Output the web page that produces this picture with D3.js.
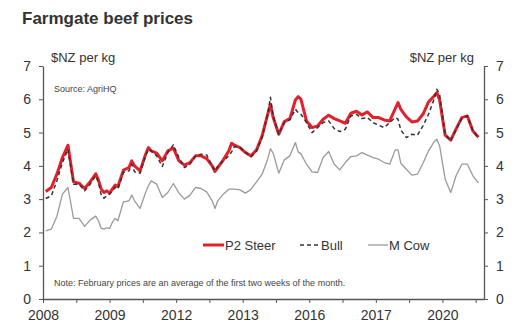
<!DOCTYPE html>
<html>
<head>
<meta charset="utf-8">
<script src="https://cdn.jsdelivr.net/npm/d3@7"></script>
<style>
  html, body { margin: 0; padding: 0; background: #fff; }
  svg { display: block; font-family: "Liberation Sans", Arial, sans-serif; }
</style>
</head>
<body>
<svg id="chart" width="524" height="336"></svg>
<script>
// Month index counted from January 2008
const months = [1,3,5,7,9,11,13,15,17,19,20,21,22,23,24,25,26,27,29,31,32,33,35,37,38,39,41,43,45,47,49,51,53,55,57,59,61,62,63,65,67,68,69,71,73,75,77,79,81,82,83,85,87,89,91,92,93,95,97,99,101,103,105,107,109,111,113,115,117,119,121,123,125,127,128,129,131,133,135,137,139,141,142,143,145,147,149,151,153,155,157];

const p2Steer = [3.23,3.35,3.75,4.25,4.62,3.52,3.48,3.32,3.52,3.76,3.57,3.30,3.20,3.25,3.18,3.30,3.42,3.38,3.87,3.95,4.15,4.00,3.85,4.35,4.55,4.45,4.38,4.15,4.45,4.53,4.15,4.02,4.10,4.30,4.30,4.22,4.00,3.83,3.95,4.18,4.45,4.68,4.62,4.55,4.40,4.30,4.48,4.90,5.55,5.85,5.45,4.95,5.33,5.42,5.98,6.08,6.00,5.35,5.15,5.20,5.40,5.52,5.42,5.35,5.28,5.58,5.64,5.53,5.62,5.45,5.45,5.38,5.35,5.72,5.90,5.70,5.47,5.32,5.35,5.55,5.92,6.10,6.20,5.98,4.92,4.77,5.12,5.45,5.50,5.05,4.86];

const bull = [3.02,3.10,3.55,4.10,4.50,3.45,3.45,3.25,3.45,3.70,3.50,3.12,3.03,3.10,3.15,3.25,3.35,3.30,3.80,3.85,4.05,3.82,3.78,4.30,4.50,4.45,4.30,3.98,4.40,4.63,4.25,3.95,4.05,4.30,4.35,4.33,4.00,3.85,3.98,4.15,4.30,4.42,4.58,4.55,4.40,4.28,4.45,4.85,5.55,6.06,5.50,4.95,5.30,5.38,5.70,5.60,5.55,5.30,5.00,5.15,5.30,5.35,5.12,5.03,5.10,5.50,5.55,5.42,5.45,5.30,5.22,5.15,5.30,5.45,5.40,5.08,4.85,4.95,4.92,5.20,5.55,6.00,6.30,6.15,4.95,4.75,5.10,5.42,5.50,5.05,4.85];

const mCow = [2.05,2.10,2.48,3.15,3.35,2.42,2.42,2.18,2.37,2.49,2.35,2.12,2.10,2.14,2.12,2.30,2.42,2.35,2.92,2.95,3.12,2.95,2.72,3.20,3.40,3.55,3.45,3.05,3.20,3.47,3.18,3.00,3.12,3.35,3.32,3.22,2.95,2.72,2.95,3.15,3.30,3.30,3.30,3.28,3.18,3.30,3.52,3.75,4.20,4.52,4.38,3.78,4.18,4.30,4.70,4.42,4.36,4.05,3.82,3.80,4.25,4.43,4.05,3.88,4.10,4.28,4.30,4.40,4.32,4.25,4.20,4.10,4.05,4.48,4.48,4.08,3.90,3.72,3.75,4.08,4.45,4.72,4.80,4.60,3.60,3.20,3.72,4.05,4.05,3.70,3.49];

const xTickMonths = [0,24,48,72,96,120,144];
const xTickLabels = ["2008","2009","2012","2013","2016","2017","2020"];
const xMinorMonths = [12,36,60,84,108,132,156];
const yTicks = [0,1,2,3,4,5,6,7];

(function () {
const svg = d3.select("#chart");
const mLeft = 43, mRight = 484, mTop = 66, mBottom = 299;

const x = d3.scaleLinear().domain([0, 159]).range([mLeft, mRight]);
const y = d3.scaleLinear().domain([0, 7]).range([mBottom, mTop]);

const axisColor = "#555";
const textColor = "#333";

// Title
svg.append("text").attr("x", 22).attr("y", 24)
  .attr("font-size", 17).attr("font-weight", "bold").attr("fill", "#333")
  .text("Farmgate beef prices");

// Unit labels
svg.append("text").attr("x", 51).attr("y", 62).attr("font-size", 13).attr("fill", textColor).text("$NZ per kg");
svg.append("text").attr("x", 474).attr("y", 62).attr("text-anchor", "end").attr("font-size", 13).attr("fill", textColor).text("$NZ per kg");

function styleAxis(g) {
  g.selectAll("path.domain").attr("stroke", axisColor).attr("stroke-width", 1.3);
  g.selectAll(".tick line").attr("stroke", axisColor).attr("stroke-width", 1);
  g.selectAll(".tick text").attr("fill", textColor).attr("font-size", 14)
    .attr("font-family", "Liberation Sans, Arial, sans-serif");
}

const gl = svg.append("g").attr("transform", `translate(${mLeft},0)`)
  .call(d3.axisLeft(y).tickValues(yTicks).tickFormat(d3.format("d")).tickSize(4).tickSizeOuter(0).tickPadding(8));
styleAxis(gl);

const gr = svg.append("g").attr("transform", `translate(${mRight},0)`)
  .call(d3.axisRight(y).tickValues(yTicks).tickFormat(d3.format("d")).tickSize(4).tickSizeOuter(0).tickPadding(8));
styleAxis(gr);

const gb = svg.append("g").attr("transform", `translate(0,${mBottom})`)
  .call(d3.axisBottom(x).tickValues(xTickMonths).tickFormat((d, i) => xTickLabels[i]).tickSize(4).tickSizeOuter(0).tickPadding(7));
styleAxis(gb);

const gm = svg.append("g").attr("transform", `translate(0,${mBottom})`)
  .call(d3.axisBottom(x).tickValues(xMinorMonths).tickFormat("").tickSize(4).tickSizeOuter(0));
gm.select("path.domain").remove();
gm.selectAll(".tick line").attr("stroke", axisColor);

const mkLine = vals => d3.line().x((d, i) => x(months[i])).y(d => y(d))(vals);

svg.append("path").attr("d", mkLine(mCow)).attr("fill", "none")
  .attr("stroke", "#9a9a9a").attr("stroke-width", 1.3).attr("stroke-linejoin", "round");
svg.append("path").attr("d", mkLine(p2Steer)).attr("fill", "none")
  .attr("stroke", "#e3202b").attr("stroke-width", 3).attr("stroke-linejoin", "round");
svg.append("path").attr("d", mkLine(bull)).attr("fill", "none")
  .attr("stroke", "#333").attr("stroke-width", 1.5).attr("stroke-dasharray", "4,3").attr("stroke-linejoin", "round");

svg.append("text").attr("x", 54).attr("y", 92).attr("font-size", 9).attr("fill", "#444").text("Source: AgriHQ");
svg.append("text").attr("x", 54).attr("y", 286).attr("font-size", 9).attr("fill", "#444")
  .text("Note: February prices are an average of the first two weeks of the month.");

const legendY = 245;
const legend = [
  {label: "P2 Steer", x1: 203, x2: 224, color: "#e3202b", w: 3, dash: null},
  {label: "Bull", x1: 300, x2: 320, color: "#333", w: 1.5, dash: "4,3"},
  {label: "M Cow", x1: 368, x2: 388, color: "#9a9a9a", w: 1.3, dash: null}
];
legend.forEach(l => {
  svg.append("line").attr("x1", l.x1).attr("x2", l.x2).attr("y1", legendY).attr("y2", legendY)
    .attr("stroke", l.color).attr("stroke-width", l.w).attr("stroke-dasharray", l.dash);
  svg.append("text").attr("x", l.x2 + 1).attr("y", legendY + 4.5).attr("font-size", 13)
    .attr("fill", textColor).text(l.label);
});
})();
</script>
</body>
</html>
